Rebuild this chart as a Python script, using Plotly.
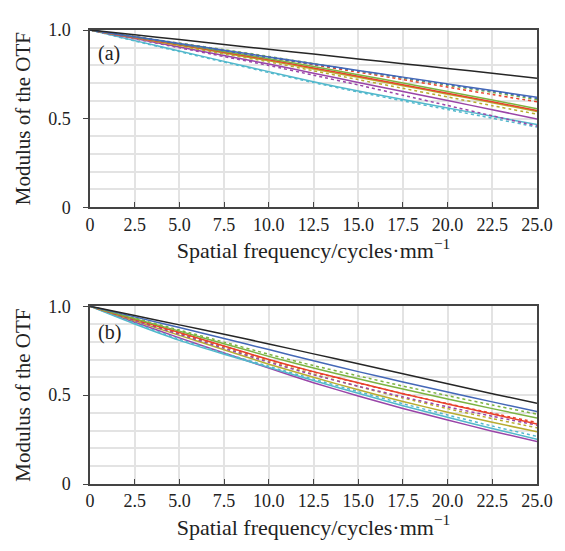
import plotly.graph_objects as go

freq = [0, 2.5, 5, 7.5, 10, 12.5, 15, 17.5, 20, 22.5, 25]
x_tick_vals = [0, 2.5, 5, 7.5, 10, 12.5, 15, 17.5, 20, 22.5, 25]
x_tick_text = ["0", "2.5", "5.0", "7.5", "10.0", "12.5", "15.0", "17.5", "20.0", "22.5", "25.0"]
y_tick_vals = [0, 0.5, 1.0]
y_tick_text = ["0", "0.5", "1.0"]

# Panel (a)
a_black = [1.0, 0.973, 0.946, 0.918, 0.891, 0.864, 0.837, 0.810, 0.783, 0.756, 0.728]
a_blue = [1.0, 0.962, 0.924, 0.886, 0.848, 0.810, 0.772, 0.734, 0.696, 0.658, 0.620]
a_blue_dot = [1.0, 0.961, 0.922, 0.883, 0.845, 0.807, 0.769, 0.731, 0.692, 0.654, 0.614]
a_green_dot = [1.0, 0.963, 0.926, 0.889, 0.851, 0.810, 0.770, 0.729, 0.688, 0.648, 0.607]
a_red_dot = [1.0, 0.962, 0.924, 0.885, 0.846, 0.804, 0.762, 0.720, 0.678, 0.636, 0.595]
a_green = [1.0, 0.960, 0.920, 0.879, 0.838, 0.794, 0.748, 0.701, 0.653, 0.605, 0.556]
a_red = [1.0, 0.958, 0.916, 0.874, 0.832, 0.786, 0.739, 0.691, 0.643, 0.595, 0.546]
a_olive = [1.0, 0.957, 0.914, 0.870, 0.826, 0.780, 0.733, 0.686, 0.638, 0.590, 0.540]
a_olive_dot = [1.0, 0.955, 0.910, 0.865, 0.820, 0.770, 0.720, 0.671, 0.622, 0.573, 0.525]
a_purple = [1.0, 0.952, 0.904, 0.856, 0.808, 0.756, 0.704, 0.653, 0.602, 0.550, 0.498]
a_purple_dot = [1.0, 0.950, 0.900, 0.850, 0.800, 0.745, 0.690, 0.632, 0.574, 0.516, 0.458]
a_cyan = [1.0, 0.940, 0.882, 0.823, 0.765, 0.708, 0.656, 0.608, 0.560, 0.513, 0.466]
a_cyan_dot = [1.0, 0.938, 0.878, 0.819, 0.760, 0.703, 0.650, 0.600, 0.551, 0.502, 0.452]

# Panel (b)
b_black = [1.0, 0.948, 0.895, 0.842, 0.788, 0.732, 0.676, 0.620, 0.564, 0.508, 0.454]
b_blue = [1.0, 0.940, 0.880, 0.818, 0.756, 0.693, 0.632, 0.574, 0.518, 0.462, 0.408]
b_green_dot = [1.0, 0.933, 0.866, 0.798, 0.730, 0.666, 0.608, 0.551, 0.497, 0.444, 0.393]
b_green = [1.0, 0.930, 0.860, 0.789, 0.718, 0.652, 0.592, 0.534, 0.478, 0.424, 0.371]
b_red = [1.0, 0.926, 0.852, 0.776, 0.700, 0.632, 0.569, 0.508, 0.450, 0.394, 0.338]
b_red_dot = [1.0, 0.925, 0.850, 0.774, 0.698, 0.630, 0.568, 0.508, 0.452, 0.398, 0.346]
b_purple_dot = [1.0, 0.920, 0.842, 0.763, 0.685, 0.614, 0.550, 0.490, 0.434, 0.381, 0.331]
b_olive_dot = [1.0, 0.922, 0.845, 0.767, 0.689, 0.618, 0.549, 0.484, 0.424, 0.368, 0.316]
b_olive = [1.0, 0.918, 0.836, 0.755, 0.674, 0.600, 0.530, 0.464, 0.404, 0.347, 0.294]
b_cyan = [1.0, 0.900, 0.808, 0.730, 0.656, 0.582, 0.510, 0.440, 0.375, 0.312, 0.252]
b_cyan_dot = [1.0, 0.905, 0.815, 0.736, 0.662, 0.590, 0.520, 0.452, 0.388, 0.326, 0.268]
b_purple = [1.0, 0.910, 0.822, 0.737, 0.652, 0.570, 0.495, 0.425, 0.360, 0.297, 0.239]

BLACK = "#262626"
BLUE = "#4468B8"
GREEN = "#7CB342"
RED = "#E8412C"
OLIVE = "#B8AC30"
PURPLE = "#9A45A8"
CYAN = "#52B8CC"

series_a = [
    (a_cyan_dot, CYAN, "dot"), (a_cyan, CYAN, "solid"),
    (a_purple_dot, PURPLE, "dot"), (a_purple, PURPLE, "solid"),
    (a_olive_dot, OLIVE, "dot"), (a_olive, OLIVE, "solid"),
    (a_red, RED, "solid"), (a_green, GREEN, "solid"),
    (a_red_dot, RED, "dot"), (a_green_dot, GREEN, "dot"),
    (a_blue_dot, BLUE, "dot"), (a_blue, BLUE, "solid"),
    (a_black, BLACK, "solid"),
]
series_b = [
    (b_purple, PURPLE, "solid"), (b_cyan_dot, CYAN, "dot"), (b_cyan, CYAN, "solid"),
    (b_olive, OLIVE, "solid"), (b_olive_dot, OLIVE, "dot"),
    (b_purple_dot, PURPLE, "dot"), (b_red_dot, RED, "dot"), (b_red, RED, "solid"),
    (b_green, GREEN, "solid"), (b_green_dot, GREEN, "dot"),
    (b_blue, BLUE, "solid"), (b_black, BLACK, "solid"),
]

fig = go.Figure()
for vals, col, dash in series_a:
    fig.add_trace(go.Scatter(x=freq, y=vals, mode="lines", xaxis="x", yaxis="y",
                             line=dict(color=col, dash=dash, width=1.5, shape="spline", smoothing=0.6),
                             showlegend=False, hoverinfo="skip"))
for vals, col, dash in series_b:
    fig.add_trace(go.Scatter(x=freq, y=vals, mode="lines", xaxis="x2", yaxis="y2",
                             line=dict(color=col, dash=dash, width=1.5, shape="spline", smoothing=0.6),
                             showlegend=False, hoverinfo="skip"))

FONT = "Liberation Serif, Times New Roman, serif"
TXT = "#222222"
GRID = "#E3E3E3"
AXC = "#444444"

def xax(anchor):
    return dict(anchor=anchor, domain=[0, 1], range=[0, 25], tickmode="array",
                tickvals=x_tick_vals, ticktext=x_tick_text, ticks="inside", ticklen=5,
                tickcolor=AXC, showline=True, linecolor=AXC, linewidth=1.5, mirror=True,
                showgrid=True, gridcolor=GRID, gridwidth=1.5, zeroline=False,
                tickfont=dict(family=FONT, size=18, color=TXT),
                title=dict(text="Spatial frequency/cycles·mm<sup>−1</sup>", standoff=6,
                           font=dict(family=FONT, size=22, color=TXT)))

def yax(anchor, domain):
    return dict(anchor=anchor, domain=domain, range=[0, 1], tickmode="array",
                tickvals=y_tick_vals, ticktext=y_tick_text, ticks="outside", ticklen=5,
                ticklabelstandoff=9,
                tickcolor=AXC, showline=True, linecolor=AXC, linewidth=1.5, mirror=True,
                showgrid=True, gridcolor=GRID, gridwidth=1.5, zeroline=False,
                minor=dict(dtick=0.1, showgrid=True, gridcolor=GRID, gridwidth=1.5, ticks=""),
                tickfont=dict(family=FONT, size=18, color=TXT),
                title=dict(text="Modulus of the OTF", standoff=12,
                           font=dict(family=FONT, size=21, color=TXT)))

# The page body adds an 8 px offset, so the figure is 8 px smaller than the window.
fig.update_layout(
    width=557, height=543,
    margin=dict(l=82, r=21, t=13, b=67),
    paper_bgcolor="white", plot_bgcolor="white",
    xaxis=xax("y"), yaxis=yax("x", [0.6097, 1.0]),
    xaxis2=xax("y2"), yaxis2=yax("x2", [0.0, 0.3916]),
    annotations=[
        dict(text="(a)", x=0.35, y=0.87, xref="x", yref="y", xanchor="left", yanchor="middle",
             showarrow=False, font=dict(family=FONT, size=20, color=TXT)),
        dict(text="(b)", x=0.35, y=0.85, xref="x2", yref="y2", xanchor="left", yanchor="middle",
             showarrow=False, font=dict(family=FONT, size=20, color=TXT)),
    ],
)

fig.write_html("out.html")
